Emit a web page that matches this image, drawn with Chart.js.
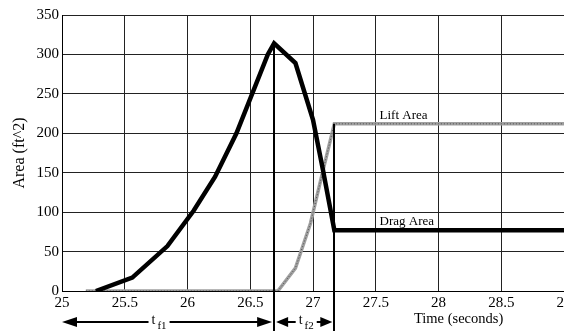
<!DOCTYPE html>
<html>
<head>
<meta charset="utf-8">
<script src="https://cdn.jsdelivr.net/npm/chart.js@4/dist/chart.umd.min.js"></script>
<style>
  html, body { margin: 0; padding: 0; background: #fff; overflow: hidden; }
  #wrap { width: 564px; height: 333px; }
</style>
</head>
<body>
<div id="wrap"><canvas id="c" width="564" height="333"></canvas></div>
<script>
// Parachute drag area and lift area over time
const dragTime = [25.27, 25.56, 25.84, 26.05, 26.22, 26.39, 26.64, 26.69, 26.86, 27.0, 27.08, 27.17, 29];
const dragArea = [0, 17, 57, 102, 145, 200, 300, 314, 289, 217, 153, 77, 77];
const liftTime = [25.19, 26.72, 26.86, 26.98, 27.08, 27.17, 29];
const liftArea = [0, 0, 29, 86, 153, 212, 212];

const xTicks = [25, 25.5, 26, 26.5, 27, 27.5, 28, 28.5, 29];
const yTicks = [0, 50, 100, 150, 200, 250, 300, 350];

// Phase boundaries: end of t_f1 (peak drag) and end of t_f2 (full lift)
const phaseStart = [25, 26.69];
const phaseEnd = [26.69, 27.17];
const phaseTop = [314, 212];
const phaseSubs = ['f1', 'f2'];

const seriesNames = ['Lift Area', 'Drag Area'];
const seriesLevels = [212, 77];

const SERIF = '"Liberation Serif", "DejaVu Serif", serif';

const toPts = (xs, ys) => xs.map((x, i) => ({ x, y: ys[i] }));

function arrowHead(ctx, tipX, y, dir, len, half) {
  ctx.beginPath();
  ctx.moveTo(tipX, y);
  ctx.lineTo(tipX + dir * len, y - half);
  ctx.lineTo(tipX + dir * len, y + half);
  ctx.closePath();
  ctx.fill();
}

const annotate = {
  id: 'annotate',
  afterDatasetsDraw(chart) {
    const { ctx, scales: { x, y } } = chart;
    const lineY = 322;
    ctx.save();
    ctx.fillStyle = '#000';
    ctx.strokeStyle = '#000';

    // vertical phase markers
    ctx.lineWidth = 2;
    phaseEnd.forEach((t, i) => {
      const px = Math.round(x.getPixelForValue(t));
      ctx.beginPath();
      ctx.moveTo(px, y.getPixelForValue(phaseTop[i]));
      ctx.lineTo(px, 331);
      ctx.stroke();
    });

    // duration arrows with t_f labels
    phaseStart.forEach((t0, i) => {
      const a = x.getPixelForValue(t0) + (i === 0 ? 0 : 2);
      const b = x.getPixelForValue(phaseEnd[i]) - 2;
      const mid = (a + b) / 2 + (i === 0 ? -8 : 2);
      ctx.font = '14px ' + SERIF;
      const tw = ctx.measureText('t').width;
      ctx.font = '11px ' + SERIF;
      const sw = ctx.measureText(phaseSubs[i]).width;
      const w = tw + 2 + sw;
      const gapL = mid - w / 2 - 3;
      const gapR = mid + w / 2 + 3;
      const head = i === 0 ? 15 : 12;
      ctx.lineWidth = 2;
      ctx.beginPath();
      ctx.moveTo(a + head - 1, lineY);
      ctx.lineTo(gapL, lineY);
      ctx.moveTo(gapR, lineY);
      ctx.lineTo(b - head + 1, lineY);
      ctx.stroke();
      arrowHead(ctx, a, lineY, 1, head, 5);
      arrowHead(ctx, b, lineY, -1, head, 5);
      ctx.textAlign = 'left';
      ctx.textBaseline = 'alphabetic';
      ctx.font = '14px ' + SERIF;
      ctx.fillText('t', mid - w / 2, lineY + 2);
      ctx.font = '11px ' + SERIF;
      ctx.fillText(phaseSubs[i], mid - w / 2 + tw + 2, lineY + 7);
    });

    // series labels
    ctx.font = '13px ' + SERIF;
    ctx.textAlign = 'left';
    ctx.textBaseline = 'alphabetic';
    seriesNames.forEach((name, i) => {
      ctx.fillText(name, x.getPixelForValue(27.53), y.getPixelForValue(seriesLevels[i]) - 5);
    });

    // x axis title
    ctx.font = '14.5px ' + SERIF;
    ctx.textAlign = 'center';
    ctx.textBaseline = 'middle';
    ctx.fillText('Time (seconds)', x.getPixelForValue(28.16), 319);
    ctx.restore();
  }
};

new Chart(document.getElementById('c'), {
  type: 'line',
  data: {
    datasets: [
      {
        label: 'Lift Area',
        data: toPts(liftTime, liftArea),
        borderColor: '#a0a0a0',
        borderWidth: 3.5,
        pointRadius: 0,
        tension: 0,
        order: 3
      },
      {
        label: 'Lift Area texture',
        data: toPts(liftTime, liftArea),
        borderColor: 'rgba(60,60,60,0.8)',
        borderWidth: 1,
        borderDash: [1, 2],
        pointRadius: 0,
        tension: 0,
        order: 2
      },
      {
        label: 'Drag Area',
        data: toPts(dragTime, dragArea),
        borderColor: '#000',
        borderWidth: 4.5,
        borderJoinStyle: 'miter',
        pointRadius: 0,
        tension: 0,
        order: 1
      }
    ]
  },
  options: {
    responsive: false,
    animation: false,
    devicePixelRatio: 1,
    layout: { padding: { top: 15, right: 0, bottom: 0, left: 0 } },
    plugins: { legend: { display: false }, tooltip: { enabled: false } },
    scales: {
      x: {
        type: 'linear',
        min: 25,
        max: 29,
        afterBuildTicks: s => { s.ticks = xTicks.map(v => ({ value: v })); },
        afterFit: s => { s.height = 42; s.paddingRight = 0; },
        ticks: {
          color: '#000',
          font: { family: SERIF, size: 15 },
          padding: 3,
          maxRotation: 0,
          autoSkip: false,
          callback: v => String(v)
        },
        grid: { color: '#222', lineWidth: 1, drawTicks: false },
        border: { display: true, color: '#000', width: 1 }
      },
      y: {
        min: 0,
        max: 350,
        afterBuildTicks: s => { s.ticks = yTicks.map(v => ({ value: v })); },
        afterFit: s => { s.width = 62; },
        ticks: {
          color: '#000',
          font: { family: SERIF, size: 15 },
          padding: 3
        },
        grid: { color: '#222', lineWidth: 1, drawTicks: false },
        border: { display: true, color: '#000', width: 1 },
        title: {
          display: true,
          text: 'Area (ft^2)',
          color: '#000',
          font: { family: SERIF, size: 16 },
          padding: { top: 10, bottom: 0 }
        }
      }
    }
  },
  plugins: [annotate]
});
</script>
</body>
</html>
